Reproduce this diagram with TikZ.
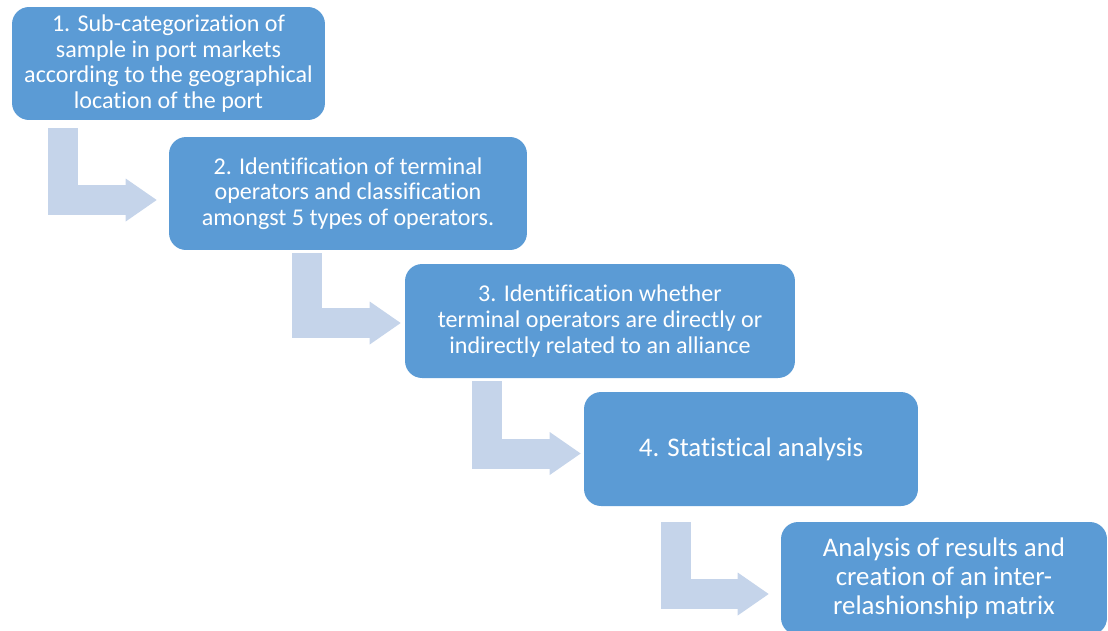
\documentclass[tikz,border=0pt]{standalone}
\usepackage{fontspec}
\setmainfont[Ligatures=CommonOff]{Carlito}
\usepackage{xcolor}
\usetikzlibrary{arrows.meta,calc}
\definecolor{boxblue}{RGB}{91,155,213}
\definecolor{arrowblue}{RGB}{197,212,234}
\tikzset{%
	stepbox/.style   = {rectangle, rounded corners=0.34cm, fill=boxblue, text=white, align=center, inner sep=0pt, font=\fontsize{13.7}{14.6}\selectfont},
	bigtext/.style   = {font=\fontsize{15.3}{16.4}\selectfont},
	bentarrow/.style = {draw=arrowblue, line width=0.6cm, -{Triangle[width=0.86cm,length=0.62cm,line width=0pt]}},
}
\begin{document}
\begin{tikzpicture}[x=0.02cm,y=-0.02cm]
		\useasboundingbox (0,0) rectangle (1108,630);
		% steps
		\node[stepbox, minimum width=6.26cm, minimum height=2.26cm] (b1) at (168.5,63.5) {1. Sub-categorization of\\sample in port markets\\according to the geographical\\location of the port};
		\node[stepbox, minimum width=7.16cm, minimum height=2.26cm] (b2) at (348,193.5) {2. Identification of terminal\\operators and classification\\amongst 5 types of operators.};
		\node[stepbox, minimum width=7.8cm, minimum height=2.28cm] (b3) at (600,321) {3. Identification whether\\terminal operators are directly or\\indirectly related to an alliance};
		\node[stepbox, bigtext, minimum width=6.68cm, minimum height=2.28cm] (b4) at (751,449) {4. Statistical analysis};
		\node[stepbox, bigtext, minimum width=6.52cm, minimum height=2.26cm] (b5) at (944,578.5) {Analysis of results and\\creation of an inter-\\relashionship matrix};
		% bent arrows
		\draw[bentarrow, shorten >=0.24cm] ($(b1.south west)+(51,8)$) |- ($(b2.west)+(0,6.5)$);
		\draw[bentarrow, shorten >=0.08cm] ($(b2.south west)+(138.5,3)$) |- ($(b3.west)+(0,2)$);
		\draw[bentarrow, shorten >=0.06cm] ($(b3.south west)+(82.5,3)$) |- ($(b4.west)+(0,4.5)$);
		\draw[bentarrow, shorten >=0.24cm] ($(b4.south west)+(92,16)$) |- ($(b5.west)+(0,15.5)$);
\end{tikzpicture}
\end{document}
